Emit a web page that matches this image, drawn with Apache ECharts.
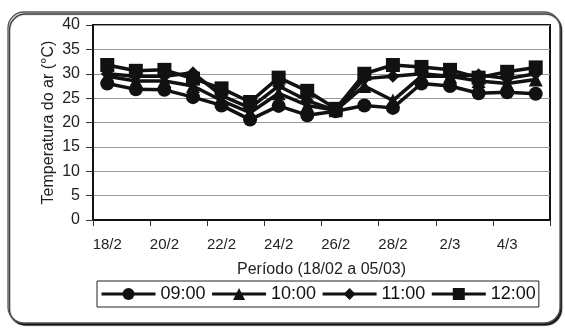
<!DOCTYPE html>
<html>
<head>
<meta charset="utf-8">
<script src="https://cdn.jsdelivr.net/npm/echarts@6/dist/echarts.min.js"></script>
<style>html,body{margin:0;padding:0;background:#fff}#c{width:565px;height:328px}</style>
</head>
<body>
<div id="c"></div>
<script>
var categories = ['18/2','19/2','20/2','21/2','22/2','23/2','24/2','25/2','26/2','27/2','28/2','1/3','2/3','3/3','4/3','5/3'];
var s0900 = [28, 26.8, 26.7, 25.2, 23.5, 20.6, 23.4, 21.5, 22.3, 23.5, 23.0, 28.0, 27.5, 26.0, 26.2, 25.9];
var s1000 = [29.5, 28.5, 28.5, 27.5, 24.5, 22, 26, 23.5, 22.5, 27.5, 24.5, 29.5, 29.5, 28.5, 28, 28.8];
var s1100 = [30, 29.5, 29.5, 30.2, 25.5, 23, 27.5, 24.5, 22.5, 29, 29.5, 30, 29.5, 29.8, 29, 30];
var s1200 = [31.8, 30.6, 30.8, 29, 27, 24.2, 29.2, 26.5, 22.8, 30, 31.8, 31.4, 30.8, 29.2, 30.4, 31.3];
var seriesNames = ['09:00','10:00','11:00','12:00'];
var yTicks = [0,5,10,15,20,25,30,35,40];

var chart = echarts.init(document.getElementById('c'), null, {renderer:'canvas'});
var font = 'Liberation Sans, Arial, sans-serif';
function mk(name, data, symbol, size) {
  return {
    name: name, type: 'line', data: data, symbol: symbol, symbolSize: size,
    lineStyle: {color:'#111', width:3.5}, itemStyle: {color:'#111'},
    animation: false
  };
}
chart.setOption({
  backgroundColor: '#fff',
  animation: false,
  graphic: [{
    type: 'rect', z: -1,
    shape: {x: 8, y: 12, width: 552, height: 311, r: 16},
    style: {fill: '#fff', stroke: '#555', lineWidth: 1.3, shadowColor: 'rgba(0,0,0,0.9)', shadowBlur: 1, shadowOffsetX: 1.5, shadowOffsetY: 2}
  }],
  grid: {left: 93, right: 15, top: 25, bottom: 108, show: true, borderColor: '#111', borderWidth: 2, backgroundColor: '#fff'},
  legend: {
    data: seriesNames, bottom: 21, left: 97,
    itemWidth: 54, itemHeight: 15, itemGap: 5,
    padding: [4, 3, 4, 3],
    borderColor: '#222', borderWidth: 1,
    lineStyle: {width: 3, color: '#111'},
    textStyle: {fontFamily: font, fontSize: 18, color: '#111'}
  },
  xAxis: {
    type: 'category', data: categories, boundaryGap: true,
    name: 'Período (18/02 a 05/03)', nameLocation: 'middle', nameGap: 42,
    nameMoveOverlap: false,
    nameTextStyle: {fontFamily: font, fontSize: 16, color: '#222'},
    axisLine: {lineStyle: {color: '#111', width: 2}},
    axisTick: {show: true, interval: 1, length: 6, lineStyle: {color: '#333'}},
    axisLabel: {interval: 1, fontFamily: font, fontSize: 15, color: '#222', margin: 17},
    splitLine: {show: false}
  },
  yAxis: {
    type: 'value', min: 0, max: 40, interval: 5,
    name: 'Temperatura do ar (°C)', nameLocation: 'middle', nameGap: 36,
    nameMoveOverlap: false,
    nameTextStyle: {fontFamily: font, fontSize: 16, color: '#222'},
    axisLine: {show: true, lineStyle: {color: '#111', width: 2}},
    axisTick: {show: true, length: 7, lineStyle: {color: '#333'}},
    axisLabel: {fontFamily: font, fontSize: 16, color: '#222', margin: 13,
      formatter: function(v){ return yTicks.indexOf(v) >= 0 ? String(v) : ''; }},
    splitLine: {show: true, lineStyle: {color: '#999', width: 1}}
  },
  series: [
    mk('09:00', s0900, 'circle', 14),
    mk('10:00', s1000, 'triangle', 14),
    mk('11:00', s1100, 'diamond', 13),
    mk('12:00', s1200, 'rect', 14)
  ]
});
</script>
</body>
</html>
